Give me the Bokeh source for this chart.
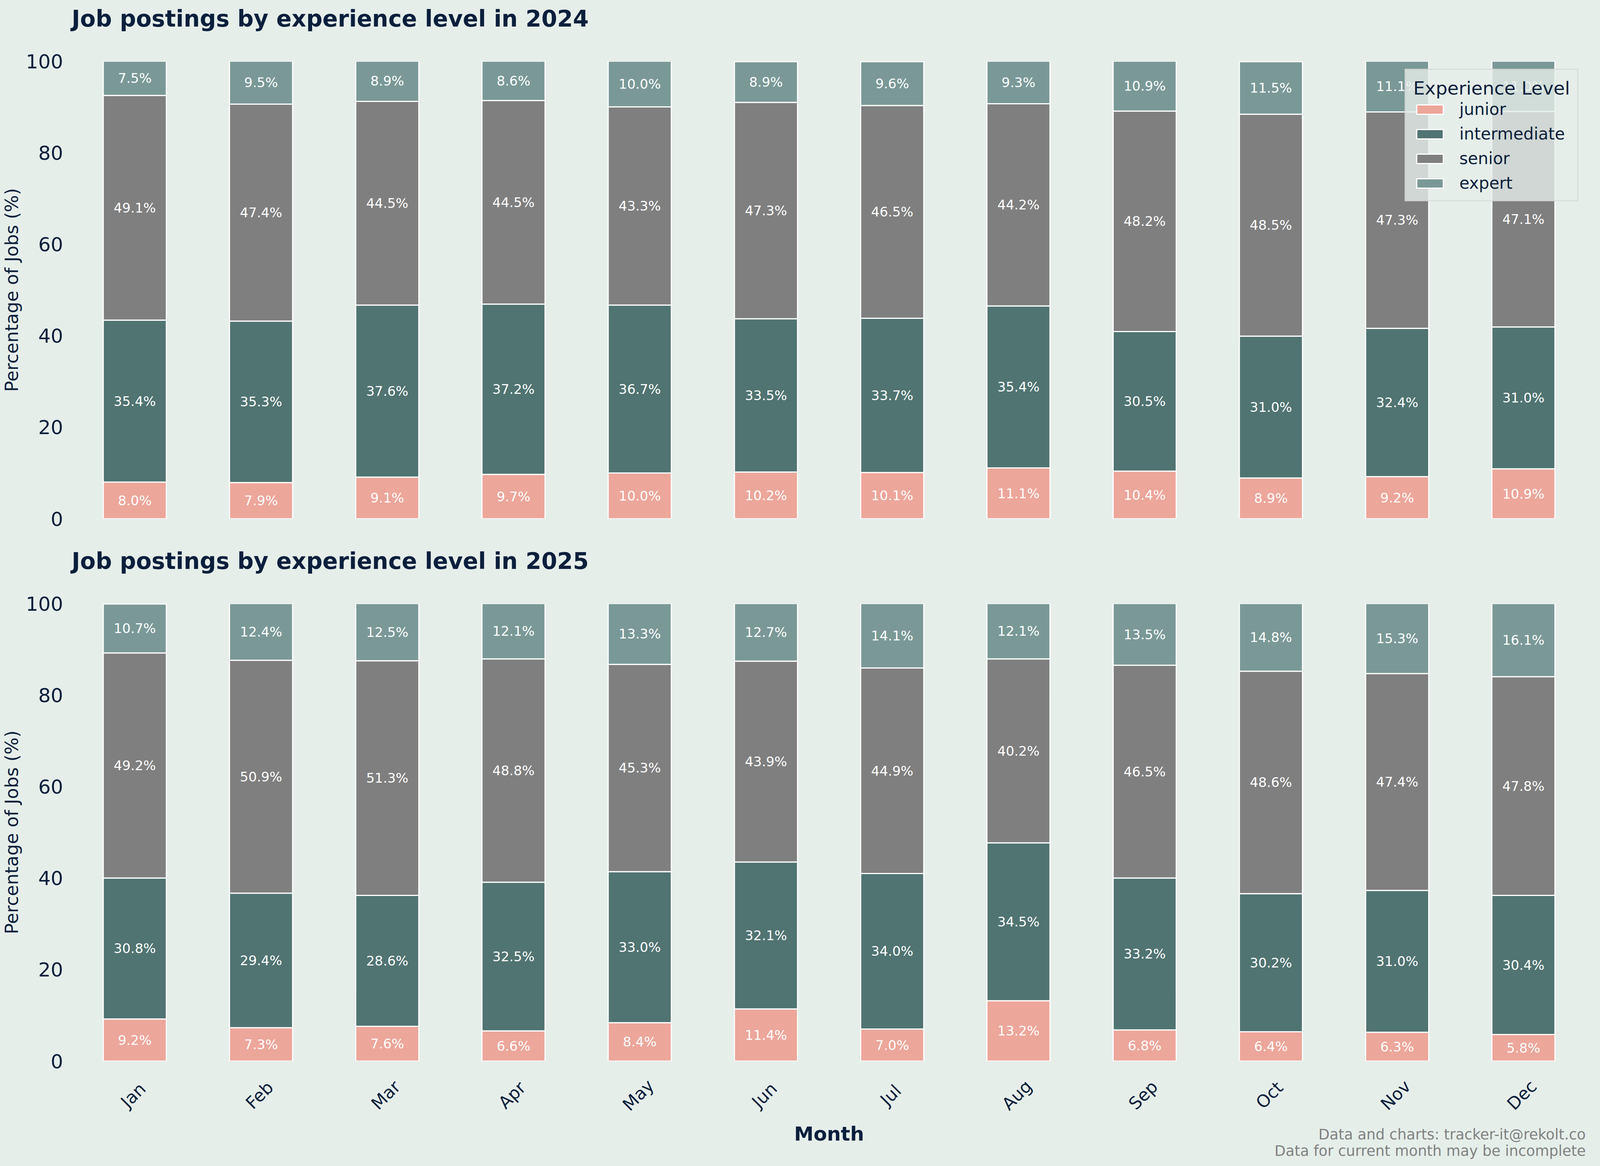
import math
from bokeh.plotting import figure
from bokeh.models import (ColumnDataSource, FactorRange, Range1d, Legend, LegendItem,
                          Label, FixedTicker, Title)
from bokeh.layouts import column
from bokeh.embed import file_html
from bokeh.resources import INLINE
from bokeh.core.properties import value

months = ["Jan", "Feb", "Mar", "Apr", "May", "Jun", "Jul", "Aug", "Sep", "Oct", "Nov", "Dec"]
levels = ["junior", "intermediate", "senior", "expert"]

junior_2024 = [8.0, 7.9, 9.1, 9.7, 10.0, 10.2, 10.1, 11.1, 10.4, 8.9, 9.2, 10.9]
intermediate_2024 = [35.4, 35.3, 37.6, 37.2, 36.7, 33.5, 33.7, 35.4, 30.5, 31.0, 32.4, 31.0]
senior_2024 = [49.1, 47.4, 44.5, 44.5, 43.3, 47.3, 46.5, 44.2, 48.2, 48.5, 47.3, 47.1]
expert_2024 = [7.5, 9.5, 8.9, 8.6, 10.0, 8.9, 9.6, 9.3, 10.9, 11.5, 11.1, 11.0]

junior_2025 = [9.2, 7.3, 7.6, 6.6, 8.4, 11.4, 7.0, 13.2, 6.8, 6.4, 6.3, 5.8]
intermediate_2025 = [30.8, 29.4, 28.6, 32.5, 33.0, 32.1, 34.0, 34.5, 33.2, 30.2, 31.0, 30.4]
senior_2025 = [49.2, 50.9, 51.3, 48.8, 45.3, 43.9, 44.9, 40.2, 46.5, 48.6, 47.4, 47.8]
expert_2025 = [10.7, 12.4, 12.5, 12.1, 13.3, 12.7, 14.1, 12.1, 13.5, 14.8, 15.3, 16.1]

y_ticks = [0, 20, 40, 60, 80, 100]
x_label = "Month"
footer_lines = ["Data and charts: tracker-it@rekolt.co",
                "Data for current month may be incomplete"]

BG = "#E6EEEA"
NAVY = "#0A1F3C"
COLORS = ["#EDA69A", "#507471", "#7F7F7F", "#7A9996"]
FONT = "DejaVu Sans"

FRAME_W = 3878
FRAME_H = 1171
FOOT_H = 235


def style_common(p):
    p.background_fill_color = BG
    p.border_fill_color = BG
    p.outline_line_color = None
    p.grid.visible = False


def make_fig(year, series, x_range, bottom):
    p = figure(
        x_range=x_range,
        y_range=Range1d(0, 100),
        frame_width=FRAME_W, frame_height=FRAME_H,
        min_border_left=180, min_border_right=22,
        min_border_top=0, min_border_bottom=30 if bottom else 61,
        output_backend="svg", toolbar_location=None,
        title=f"Job postings by experience level in {year}",
    )
    style_common(p)

    p.title.text_font = FONT
    p.title.text_font_size = "58px"
    p.title.text_font_style = "bold"
    p.title.text_color = NAVY
    p.title.align = "left"
    p.title.offset = 0
    p.title.vertical_align = "top"
    p.title.standoff = 26
    # spacer between title and plot area
    p.add_layout(Title(text=" ", text_font_size="10px", standoff=47,
                       background_fill_color=None), "above")

    data = dict(month=months)
    for lvl, vals in zip(levels, series):
        data[lvl] = vals
    src = ColumnDataSource(data)
    rs = p.vbar_stack(levels, x="month", width=0.5, source=src,
                      fill_color=COLORS, line_color="white", line_width=3)

    # segment labels
    lx, ly, lt = [], [], []
    for i, m in enumerate(months):
        base = 0.0
        for vals in series:
            v = vals[i]
            lx.append(m)
            ly.append(base + v / 2)
            lt.append(f"{v:.1f}%")
            base += v
    p.text(x=lx, y=ly, text=lt, text_align="center", text_baseline="middle",
           text_color="white", text_font_size="34px", text_font=value(FONT))

    p.yaxis.ticker = FixedTicker(ticks=y_ticks)
    p.yaxis.axis_line_color = None
    p.yaxis.major_tick_line_color = None
    p.yaxis.minor_tick_line_color = None
    p.yaxis.major_tick_out = 0
    p.yaxis.major_label_standoff = 22
    p.yaxis.major_label_text_font = FONT
    p.yaxis.major_label_text_font_size = "50px"
    p.yaxis.major_label_text_color = NAVY
    p.yaxis.axis_label = "Percentage of Jobs (%)"
    p.yaxis.axis_label_text_font = FONT
    p.yaxis.axis_label_text_font_size = "46px"
    p.yaxis.axis_label_text_font_style = "normal"
    p.yaxis.axis_label_text_color = NAVY
    p.yaxis.axis_label_standoff = 6

    p.xaxis.visible = False

    if not bottom:
        items = [LegendItem(label=l, renderers=[r]) for l, r in zip(levels, rs)]
        leg = Legend(items=items, location="top_right", title="Experience Level",
                     margin=20, padding=19, spacing=14,
                     glyph_width=85, glyph_height=30, label_standoff=33,
                     label_text_font=FONT, label_text_font_size="42px", label_text_color=NAVY,
                     title_text_font=FONT, title_text_font_size="47px",
                     title_text_font_style="normal", title_text_color=NAVY, title_standoff=2,
                     background_fill_color=BG, background_fill_alpha=0.8,
                     border_line_color="#CCCCCC", border_line_width=3)
        p.add_layout(leg)
    return p


def make_axis_strip(x_range):
    # strip below the charts: shares the month scale of the charts and holds the
    # rotated month tick labels, the x-axis title and the source note
    p = figure(
        x_range=x_range, y_range=Range1d(0, FOOT_H),
        frame_width=FRAME_W, frame_height=FOOT_H,
        min_border_left=180, min_border_right=22, min_border_top=0, min_border_bottom=0,
        output_backend="svg", toolbar_location=None, title_location=None,
    )
    style_common(p)
    p.axis.visible = False
    p.text(x=months, y=[FOOT_H - 57] * len(months), text=months, angle=math.pi / 4,
           x_offset=-4, text_align="center", text_baseline="middle",
           text_color=NAVY, text_font_size="44px", text_font=value(FONT))
    p.add_layout(Label(x=FRAME_W / 2, y=FOOT_H - 156, x_units="screen", text=x_label,
                       text_align="center", text_baseline="alphabetic",
                       text_font=FONT, text_font_size="50px", text_font_style="bold",
                       text_color=NAVY))
    for txt, t in zip(footer_lines, [158, 200]):
        p.add_layout(Label(x=FRAME_W - 2, y=FOOT_H - t, x_units="screen", text=txt,
                           text_align="right", text_baseline="alphabetic",
                           text_font=FONT, text_font_size="37px", text_color="#808080"))
    return p


x_shared = FactorRange(factors=months, range_padding=0)
p1 = make_fig(2024, [junior_2024, intermediate_2024, senior_2024, expert_2024], x_shared, False)
p2 = make_fig(2025, [junior_2025, intermediate_2025, senior_2025, expert_2025], x_shared, True)
p3 = make_axis_strip(x_shared)

layout = column(p1, p2, p3, spacing=0, styles={"background-color": BG})

template = """
{% block postamble %}
<style>body { background-color: #E6EEEA; }</style>
{% endblock %}
"""

open("out.html", "w").write(file_html(layout, INLINE, template=template))
